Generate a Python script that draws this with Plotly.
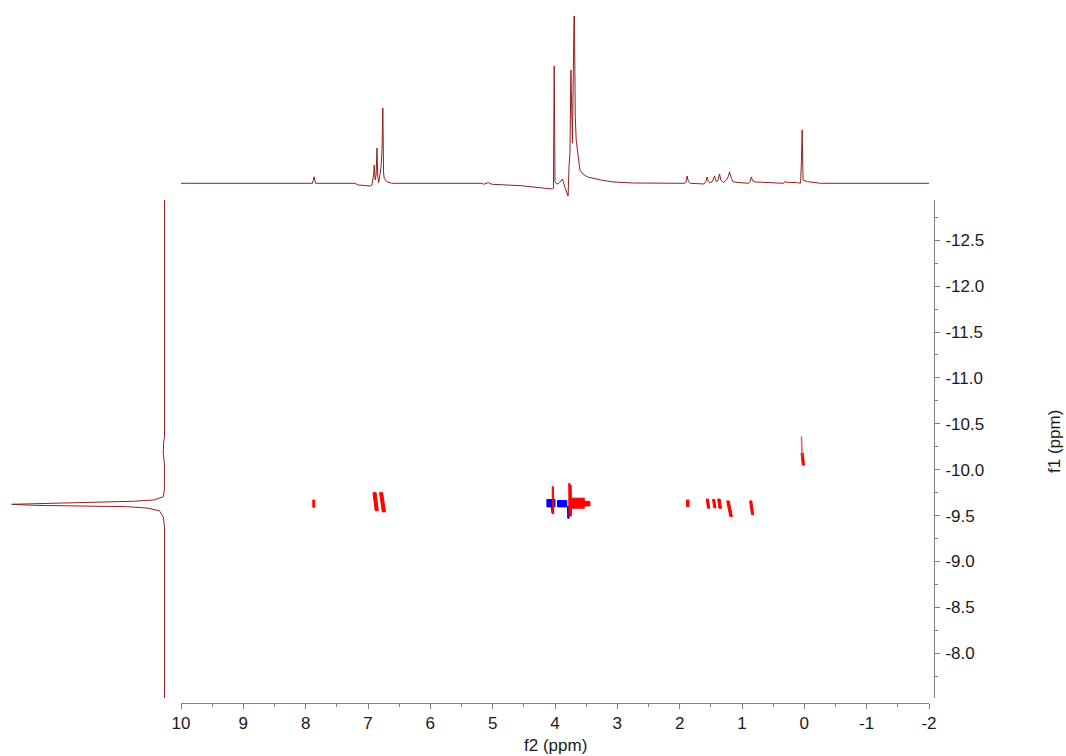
import plotly.graph_objects as go

W, H = 1066, 756

# ---------------- data ----------------
# top 1D projection (f2 ppm, relative intensity %)
spec_ppm = [10.0, 7.95, 7.89, 7.865, 7.84, 7.80, 7.21, 7.16, 6.96, 6.94, 6.91, 6.90,
            6.885, 6.87, 6.855, 6.845, 6.83, 6.82, 6.79, 6.775, 6.762, 6.75, 6.74,
            6.70, 6.62, 5.17, 5.15, 5.07, 5.01, 4.56, 4.08, 4.04, 4.025, 4.013, 4.00,
            3.97, 3.93, 3.88, 3.84, 3.80, 3.79, 3.775, 3.76, 3.745, 3.73, 3.72, 3.695,
            3.688, 3.675, 3.66, 3.64, 3.60, 3.55, 3.48, 3.27, 3.07, 2.74, 1.93, 1.90,
            1.88, 1.86, 1.83, 1.61, 1.58, 1.56, 1.54, 1.52, 1.48, 1.46, 1.44, 1.42,
            1.40, 1.38, 1.36, 1.34, 1.30, 1.25, 1.22, 1.20, 1.17, 1.14, 0.98, 0.90,
            0.87, 0.85, 0.83, 0.79, 0.55, 0.34, 0.31, 0.28, 0.11, 0.06, 0.045, 0.035,
            0.02, -0.05, -0.26, -2.0]
spec_int = [0, 0, 0, 3.9, 0, 0, 0, -1.0, -1.6, -1.2, 5.0, 10.9,
            2.0, 5.0, 21.1, 5.0, 0.4, 2.0, 9.7, 20.0, 45.0, 6.2, 3.0,
            1.0, 0, 0, -0.6, 0.4, -0.6, -1.4, -3.0, -3.4, -2.8, 70.1, 1.0,
            -0.5, 0.3, 2.6, -2.5, -6.5, -7.6, 10.0, 18.1, 67.7, 30.0, 24.0, 100,
            100, 40, 26, 19.9, 7.9, 5.5, 3.8, 2.0, 0.8, 0.2, 0, 0.5,
            4.4, 1.0, 0, -0.4, 1.0, 3.8, 1.2, 0.3, 1.0, 2.5, 4.4, 1.5,
            1.0, 2.5, 5.6, 2.0, 0.4, 2.0, 4.0, 6.8, 3.0, 0.8, 0.4, 0,
            1.0, 3.8, 1.5, 0.8, 0.4, 0, 1.0, 0.6, 0.4, 0, 15, 31.9,
            2.0, 1.0, 0, 0]

# left projection (f1 ppm, relative intensity %)
proj_f1 = [-12.938, -10.35, -10.30, -10.18, -10.05, -9.78, -9.706, -9.67, -9.656,
           -9.641, -9.63, -9.623, -9.612, -9.605, -9.597, -9.583, -9.553, -9.488,
           -9.379, -7.513]
proj_int = [0, 0, 0.6, 0.8, 0, 0.1, 0.8, 7.0, 20.4,
            53.1, 85.9, 100, 85.9, 53.1, 24.7, 11.6, 3.4, 0.8,
            0, 0]

# 2D cross peaks: centre f2 at top / bottom, f1 top / bottom, width (ppm)
red_f2_top = [7.87, 6.895, 6.79, 4.035, 3.77, 3.75, 3.65, 3.495, 1.87, 1.555, 1.455, 1.37, 1.225, 0.86, 0.035]
red_f2_bot = [7.87, 6.86, 6.745, 4.03, 3.765, 3.745, 3.65, 3.495, 1.87, 1.535, 1.435, 1.35, 1.175, 0.83, 0.015]
red_f1_top = [-9.67, -9.75, -9.75, -9.815, -9.85, -9.83, -9.69, -9.655, -9.67, -9.68, -9.675, -9.68, -9.66, -9.66, -10.18]
red_f1_bot = [-9.59, -9.555, -9.54, -9.52, -9.49, -9.50, -9.58, -9.605, -9.60, -9.58, -9.585, -9.58, -9.49, -9.51, -10.05]
red_width = [0.03, 0.05, 0.05, 0.02, 0.02, 0.02, 0.24, 0.11, 0.04, 0.035, 0.035, 0.04, 0.04, 0.035, 0.035]

thin_f2_top = [0.045]
thin_f2_bot = [0.035]
thin_f1_top = [-10.36]
thin_f1_bot = [-10.14]
thin_width = [0.012]

blue_f2_top = [4.065, 4.045, 3.885, 3.79]
blue_f2_bot = [4.065, 4.04, 3.885, 3.785]
blue_f1_top = [-9.675, -9.60, -9.665, -9.60]
blue_f1_bot = [-9.595, -9.53, -9.595, -9.47]
blue_width = [0.13, 0.02, 0.15, 0.02]

x_tick_vals = [10, 9, 8, 7, 6, 5, 4, 3, 2, 1, 0, -1, -2]
x_tick_text = ["10", "9", "8", "7", "6", "5", "4", "3", "2", "1", "0", "-1", "-2"]
y_tick_vals = [-12.5, -12.0, -11.5, -11.0, -10.5, -10.0, -9.5, -9.0, -8.5, -8.0]
y_tick_text = ["-12.5", "-12.0", "-11.5", "-11.0", "-10.5", "-10.0", "-9.5", "-9.0", "-8.5", "-8.0"]

F2_RANGE = [10, -2]
F1_RANGE = [-7.513, -12.938]


def blobs(f2t, f2b, f1t, f1b, w):
    xs, ys = [], []
    for a, b, c, d, e in zip(f2t, f2b, f1t, f1b, w):
        xs += [a + e / 2, a - e / 2, b - e / 2, b + e / 2, a + e / 2, None]
        ys += [c, c, d, d, c, None]
    return xs, ys


fig = go.Figure()

bx, by = blobs(blue_f2_top, blue_f2_bot, blue_f1_top, blue_f1_bot, blue_width)
fig.add_trace(go.Scatter(x=bx, y=by, mode="lines", fill="toself", fillcolor="#0000ff",
                         line=dict(color="#0000ff", width=1), xaxis="x", yaxis="y",
                         hoverinfo="skip", showlegend=False))
rx, ry = blobs(red_f2_top, red_f2_bot, red_f1_top, red_f1_bot, red_width)
fig.add_trace(go.Scatter(x=rx, y=ry, mode="lines", fill="toself", fillcolor="#ff0000",
                         line=dict(color="#ff0000", width=1), xaxis="x", yaxis="y",
                         hoverinfo="skip", showlegend=False))
tx, ty = blobs(thin_f2_top, thin_f2_bot, thin_f1_top, thin_f1_bot, thin_width)
fig.add_trace(go.Scatter(x=tx, y=ty, mode="lines", fill="toself", fillcolor="rgba(230,60,60,0.7)",
                         line=dict(color="rgba(230,60,60,0.7)", width=0.8), xaxis="x", yaxis="y",
                         hoverinfo="skip", showlegend=False))

fig.add_trace(go.Scatter(x=spec_ppm, y=spec_int, mode="lines",
                         line=dict(color="#931f1f", width=1), xaxis="x2", yaxis="y2",
                         hoverinfo="skip", showlegend=False))
fig.add_trace(go.Scatter(x=proj_int, y=proj_f1, mode="lines",
                         line=dict(color="#931f1f", width=1), xaxis="x3", yaxis="y3",
                         hoverinfo="skip", showlegend=False))

axis_col = "#808080"
tick_font = dict(family="Liberation Sans, Arial, sans-serif", size=17, color="#1a1a1a")

fig.update_layout(
    width=W, height=H, margin=dict(l=0, r=0, t=0, b=0, autoexpand=False),
    paper_bgcolor="white", plot_bgcolor="white",
    xaxis=dict(domain=[181 / W, 929 / W], range=F2_RANGE, anchor="free",
               position=1 - 703 / H, showgrid=False, zeroline=False, automargin=False,
               showline=True, linecolor=axis_col, linewidth=1,
               ticks="outside", ticklen=5, tickcolor=axis_col, tickwidth=1,
               tickvals=x_tick_vals, ticktext=x_tick_text, tickfont=tick_font,
               ticklabelstandoff=0,
               minor=dict(dtick=0.5, tick0=0, ticks="outside", ticklen=3,
                          tickcolor=axis_col, showgrid=False)),
    yaxis=dict(domain=[1 - 698 / H, 1 - 200 / H], range=F1_RANGE, anchor="free",
               position=934 / W, side="right", showgrid=False, zeroline=False,
               automargin=False,
               showline=True, linecolor=axis_col, linewidth=1,
               ticks="outside", ticklen=5, tickcolor=axis_col, tickwidth=1,
               tickvals=y_tick_vals, ticktext=y_tick_text, tickfont=tick_font,
               ticklabelstandoff=2,
               minor=dict(dtick=0.25, tick0=0, ticks="outside", ticklen=3,
                          tickcolor=axis_col, showgrid=False)),
    xaxis2=dict(domain=[181 / W, 929 / W], range=F2_RANGE, anchor="y2", visible=False,
                automargin=False),
    yaxis2=dict(domain=[1 - 200 / H, 1 - 10 / H], range=[-9.98, 103.6], anchor="x2",
                visible=False, automargin=False),
    xaxis3=dict(domain=[10 / W, 170 / W], range=[101.1, -3.6], anchor="y3", visible=False,
                automargin=False),
    yaxis3=dict(domain=[1 - 698 / H, 1 - 200 / H], range=F1_RANGE, anchor="x3",
                visible=False, automargin=False),
    annotations=[
        dict(text="f2 (ppm)", xref="paper", yref="paper", x=555 / W, y=1 - 745 / H,
             xanchor="center", yanchor="middle", showarrow=False,
             font=dict(family="Liberation Sans, Arial, sans-serif", size=17, color="#1a1a1a")),
        dict(text="f1 (ppm)", xref="paper", yref="paper", x=1054 / W, y=1 - 442 / H,
             xanchor="center", yanchor="middle", showarrow=False, textangle=-90,
             font=dict(family="Liberation Sans, Arial, sans-serif", size=17, color="#1a1a1a")),
    ],
)

fig.write_html("out.html")
